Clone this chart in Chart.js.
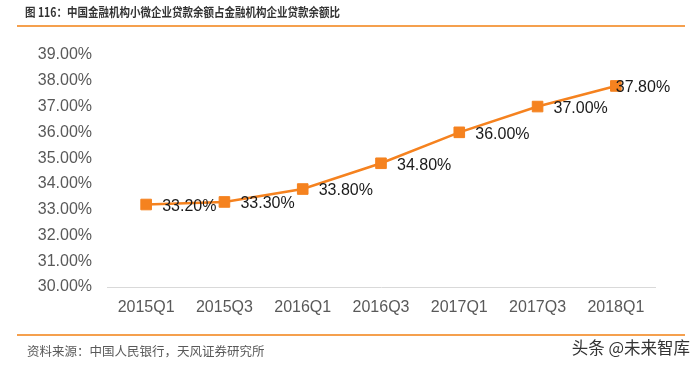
<!DOCTYPE html>
<html>
<head>
<meta charset="utf-8">
<script src="https://cdn.jsdelivr.net/npm/chart.js@4.4.0/dist/chart.umd.min.js"></script>
<style>
  body { margin: 0; background: #fff; }
  #wrap { position: relative; width: 700px; height: 366px; overflow: hidden; }
  #myChart { position: absolute; left: 0; top: 0; }
  .txt { position: absolute; white-space: nowrap; font-family: "Noto Sans CJK SC", sans-serif; }
  #title { left: 25px; top: 3px; font-size: 12.5px; font-weight: bold; color: #333; line-height: 18px;
           transform: scaleX(0.84); transform-origin: left center; }
  #source { left: 27px; top: 342px; font-size: 12.5px; color: #595959; line-height: 18px; }
  #mark { right: 10px; top: 337px; font-size: 16.5px; color: #333; line-height: 20px; }
  .rule { position: absolute; left: 17px; width: 668px; height: 2px; background: #f5a04e; }
</style>
</head>
<body>
<div id="wrap">
  <canvas id="myChart" width="700" height="366"></canvas>
  <div class="txt" id="title">图 116：中国金融机构小微企业贷款余额占金融机构企业贷款余额比</div>
  <div class="rule" style="top:25px"></div>
  <div class="rule" style="top:334px"></div>
  <div class="txt" id="source">资料来源：中国人民银行，天风证券研究所</div>
  <div class="txt" id="mark">头条 @未来智库</div>
</div>
<script>
// quarters on the x axis
let xValues = ["2015Q1", "2015Q3", "2016Q1", "2016Q3", "2017Q1", "2017Q3", "2018Q1"];
// share of small/micro loans, percent
let yValues = [33.2, 33.3, 33.8, 34.8, 36.0, 37.0, 37.8];
let yMin = 30;
let yMax = 39;

// label shift to the right of each point (last one is squeezed in)
const labelShift = [16, 16, 16, 16, 16, 16, 0];

const pointLabels = {
    id: "pointLabels",
    afterDatasetsDraw(chart) {
        const ctx = chart.ctx;
        const meta = chart.getDatasetMeta(0);
        ctx.save();
        ctx.font = "16px 'Liberation Sans', Arial, sans-serif";
        ctx.fillStyle = "#1a1a1a";
        ctx.textAlign = "left";
        ctx.textBaseline = "middle";
        meta.data.forEach(function (pt, i) {
            ctx.fillText(yValues[i].toFixed(2) + "%", pt.x + labelShift[i], pt.y + 2);
        });
        ctx.restore();
    }
};

const myChart = new Chart("myChart", {
    type: "line",
    data: {
        labels: xValues,
        datasets: [{
            data: yValues,
            borderColor: "#f5821f",
            backgroundColor: "#f5821f",
            borderWidth: 2.5,
            pointStyle: "rect",
            pointRadius: 7.5,
            pointBorderWidth: 1,
            pointBorderColor: "#f5821f",
            tension: 0
        }]
    },
    options: {
        responsive: false,
        animation: false,
        events: [],
        layout: { padding: { left: 0, top: 55, right: 45, bottom: 0 } },
        plugins: {
            legend: { display: false },
            tooltip: { enabled: false }
        },
        scales: {
            x: {
                offset: true,
                afterFit: function (s) { s.height = 79; },
                grid: { display: false, drawTicks: false },
                border: { display: true, color: "#d9d9d9", width: 1 },
                ticks: {
                    color: "#595959",
                    padding: 11,
                    font: { family: "'Liberation Sans', Arial, sans-serif", size: 16 }
                }
            },
            y: {
                min: yMin,
                max: yMax,
                afterFit: function (s) { s.width = 107; },
                grid: { display: false, drawTicks: false },
                border: { display: false },
                ticks: {
                    stepSize: 1,
                    color: "#595959",
                    padding: 15,
                    font: { family: "'Liberation Sans', Arial, sans-serif", size: 16 },
                    callback: function (v) { return v.toFixed(2) + "%"; }
                }
            }
        }
    },
    plugins: [pointLabels]
});
</script>
</body>
</html>
